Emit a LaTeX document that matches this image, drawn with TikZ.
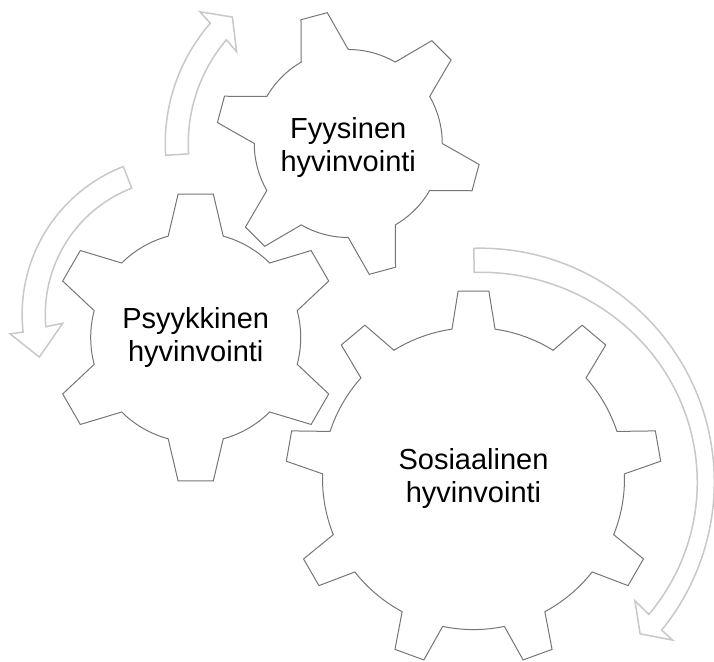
\documentclass[tikz,border=0pt]{standalone}
\usepackage{fontspec}
\setmainfont{Liberation Sans}
\definecolor{gearc}{RGB}{118,118,118}
\definecolor{arrc}{RGB}{200,200,200}
\tikzset{
  gearline/.style={draw=gearc,line width=1pt,fill=white,line join=miter},
  arrowband/.style={draw=arrc,line width=1.5pt,fill=white,line join=miter},
  geartext/.style={align=center,font=\fontsize{29}{33}\selectfont,text=black,inner sep=0pt}
}
% #1 cx, #2 cy, #3 teeth, #4 first tooth angle, #5 outer r, #6 root r, #7 tip half angle, #8 base half angle
\newcommand\mygear[8]{%
  \draw[gearline,shift={(#1,#2)}] ({#4-#8}:#6)
    \foreach \k in {1,...,#3}{
      -- ({#4+(\k-1)*360/#3-#7}:#5)
      -- ({#4+(\k-1)*360/#3+#7}:#5)
      -- ({#4+(\k-1)*360/#3+#8}:#6)
      arc[start angle={#4+(\k-1)*360/#3+#8}, end angle={#4+\k*360/#3-#8}, radius=#6pt]
    } -- cycle;
}
\begin{document}
\begin{tikzpicture}[x=1pt,y=1pt]
\useasboundingbox (0,0) rectangle (714,661);
% arrows
\draw[arrowband,shift={(348.25,517.5)}]
  (183.7:183) arc[start angle=183.7,end angle=138.9,radius=183pt]
  -- (138.4:198.4) -- (132.5:171.5) -- (140.6:144.5) -- (139.6:160)
  arc[start angle=139.6,end angle=183.7,radius=160pt] -- cycle;
\draw[arrowband,shift={(180.7,346.6)}]
  (111.2:158.6) arc[start angle=111.2,end angle=186.4,radius=158.6pt]
  -- (186.5:171.8) -- (196.8:147.7) -- (184.3:118.3) -- (185.2:135.4)
  arc[start angle=185.2,end angle=111.2,radius=135.4pt] -- cycle;
\draw[arrowband,shift={(480.3,178.8)}]
  (91.6:234) arc[start angle=91.6,end angle=-39.2,radius=234pt]
  -- (-39.4:248.8) -- (-43.5:220.3) -- (-37.5:194.9) -- (168.6,-132.2)
  arc[start angle=-39,end angle=91.6,x radius=217pt,y radius=210pt] -- cycle;
% gears
\mygear{348.25}{517.5}{6}{105}{132.5}{94}{5.9}{15}
\mygear{195.7}{323.5}{6}{90}{144.5}{105}{7}{15.2}
\mygear{473.5}{182.4}{9}{90}{188}{151}{4.7}{8.2}
% texts
\node[geartext] (fyys) at (348.25,513.5) {Fyysinen\\hyvinvointi};
\node[geartext] (psyyk) at (195.7,323.5) {Psyykkinen\\hyvinvointi};
\node[geartext] (sos) at (473.5,182.4) {Sosiaalinen\\hyvinvointi};
\end{tikzpicture}
\end{document}
